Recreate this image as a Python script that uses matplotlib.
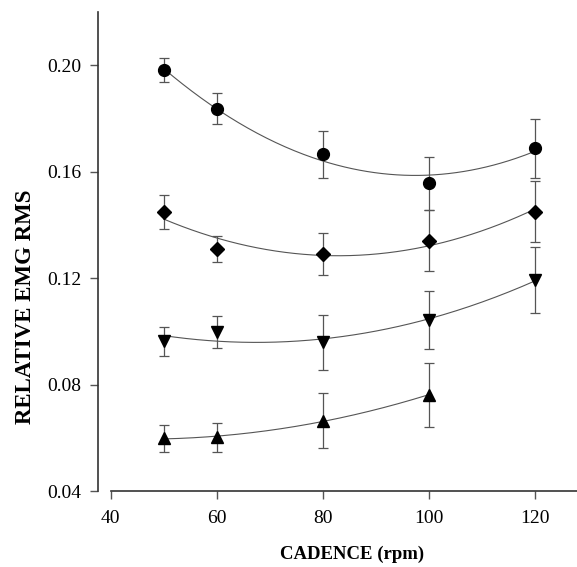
import numpy as np
import matplotlib
matplotlib.use("Agg")
import matplotlib.pyplot as plt

plt.rcParams['font.family'] = ['Liberation Serif', 'DejaVu Serif']

# cadence values (rpm)
cadence = [50, 60, 80, 100, 120]
cadence_up = [50, 60, 80, 100]

# relative EMG RMS, mean and error for each series
circle_y = [0.198, 0.1837, 0.1665, 0.1556, 0.1687]
circle_err = [0.0045, 0.006, 0.0088, 0.010, 0.011]

diamond_y = [0.1449, 0.1309, 0.129, 0.134, 0.1449]
diamond_err = [0.0063, 0.005, 0.008, 0.0114, 0.0114]

down_y = [0.0963, 0.0998, 0.0958, 0.1042, 0.1193]
down_err = [0.0055, 0.006, 0.0105, 0.011, 0.0125]

up_y = [0.0598, 0.0602, 0.0664, 0.0761]
up_err = [0.005, 0.0055, 0.0103, 0.012]

xticks = [40, 60, 80, 100, 120]
yticks = [0.04, 0.08, 0.12, 0.16, 0.20]

fig = plt.figure(figsize=(5.77, 5.67), dpi=100)
ax = fig.add_axes([0.170, 0.134, 0.83, 0.845])

series = [
    (cadence, circle_y, circle_err, 'o', 8.5),
    (cadence, diamond_y, diamond_err, 'D', 7.3),
    (cadence, down_y, down_err, 'v', 8.5),
    (cadence_up, up_y, up_err, '^', 8.5),
]

for xs, ys, es, mk, ms in series:
    # quadratic fit through the means, like the original
    coef = np.polyfit(xs, ys, 2)
    xx = np.linspace(min(xs), max(xs), 200)
    ax.plot(xx, np.polyval(coef, xx), color='#555555', lw=0.8, zorder=2)
    ax.errorbar(xs, ys, yerr=es, fmt='none', ecolor='#555555', elinewidth=0.9,
                capsize=3.5, capthick=0.9, zorder=3)
    ax.plot(xs, ys, linestyle='none', marker=mk, markersize=ms,
            color='black', zorder=4)

ax.set_xlim(37.6, 128)
ax.set_ylim(0.04, 0.22)
ax.spines['top'].set_visible(False)
ax.spines['right'].set_visible(False)
ax.spines['bottom'].set_bounds(40, 128)
ax.spines['left'].set_linewidth(1.2)
ax.spines['bottom'].set_linewidth(1.2)
ax.spines['left'].set_color('#333333')
ax.spines['bottom'].set_color('#333333')

ax.set_xticks(xticks)
ax.set_yticks(yticks)
ax.set_yticklabels(['%.2f' % v for v in yticks])
ax.tick_params(axis='both', direction='out', length=6, width=1, color='#555555',
               labelsize=14, pad=6)
ax.tick_params(axis='x', pad=8)

ax.set_xlabel('CADENCE (rpm)', fontsize=13.5, fontweight='bold')
ax.set_ylabel('RELATIVE EMG RMS', fontsize=16.5, fontweight='bold')
ax.xaxis.set_label_coords(0.53, -0.115)
ax.yaxis.set_label_coords(-0.13, 0.384)

fig.savefig('out.png', dpi=100)
